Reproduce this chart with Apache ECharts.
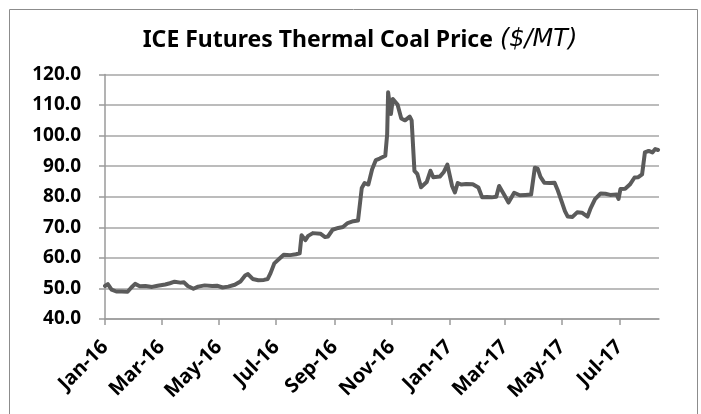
<!DOCTYPE html>
<html>
<head>
<meta charset="utf-8">
<script src="https://cdn.jsdelivr.net/npm/echarts@6/dist/echarts.min.js"></script>
<style>
  html, body { margin: 0; padding: 0; background: #fff; }
  #main { width: 701px; height: 414px; }
</style>
</head>
<body>
<div id="main"></div>
<script>
// price readings ($/MT)
var dates = [
  '2016-01-01', '2016-01-04', '2016-01-08', '2016-01-13', '2016-01-19', '2016-01-25', '2016-01-29',
  '2016-02-02', '2016-02-07', '2016-02-13', '2016-02-20', '2016-02-26',
  '2016-03-05', '2016-03-10', '2016-03-15', '2016-03-21', '2016-03-25', '2016-03-29',
  '2016-04-04', '2016-04-09', '2016-04-16', '2016-04-24', '2016-04-29',
  '2016-05-05', '2016-05-11', '2016-05-18', '2016-05-24', '2016-05-29',
  '2016-06-01', '2016-06-06', '2016-06-12', '2016-06-18', '2016-06-22', '2016-06-25', '2016-06-29',
  '2016-07-04', '2016-07-09', '2016-07-16', '2016-07-22', '2016-07-26', '2016-07-28',
  '2016-08-01', '2016-08-04', '2016-08-09', '2016-08-17', '2016-08-22', '2016-08-25', '2016-08-30',
  '2016-09-05', '2016-09-10', '2016-09-15', '2016-09-21', '2016-09-26', '2016-09-28', '2016-09-30',
  '2016-10-03', '2016-10-07', '2016-10-11', '2016-10-15', '2016-10-19', '2016-10-25', '2016-10-27', '2016-10-28', '2016-10-31',
  '2016-11-02', '2016-11-04', '2016-11-07', '2016-11-11', '2016-11-15', '2016-11-20', '2016-11-22', '2016-11-25', '2016-11-28',
  '2016-12-02', '2016-12-08', '2016-12-12', '2016-12-15', '2016-12-22', '2016-12-26', '2016-12-30',
  '2017-01-04', '2017-01-07', '2017-01-10', '2017-01-14', '2017-01-19', '2017-01-26',
  '2017-02-01', '2017-02-05', '2017-02-10', '2017-02-15', '2017-02-20', '2017-02-23',
  '2017-03-01', '2017-03-05', '2017-03-11', '2017-03-17', '2017-03-23', '2017-03-29',
  '2017-04-02', '2017-04-05', '2017-04-08', '2017-04-12', '2017-04-18', '2017-04-23', '2017-04-26',
  '2017-05-01', '2017-05-04', '2017-05-07', '2017-05-12', '2017-05-17', '2017-05-22', '2017-05-28', '2017-05-31',
  '2017-06-05', '2017-06-11', '2017-06-16', '2017-06-21', '2017-06-28', '2017-06-30',
  '2017-07-02', '2017-07-07', '2017-07-12', '2017-07-17', '2017-07-21', '2017-07-25', '2017-07-28',
  '2017-08-01', '2017-08-05', '2017-08-08', '2017-08-11'
];
var prices = [
  50.8, 51.4, 49.6, 49.0, 49.0, 48.9, 50.3,
  51.5, 50.7, 50.8, 50.5, 50.9,
  51.3, 51.7, 52.2, 51.9, 52.0, 50.8,
  49.9, 50.6, 51.0, 50.8, 50.9,
  50.3, 50.6, 51.2, 52.3, 54.2,
  54.7, 53.1, 52.7, 52.8, 53.1, 55.0, 58.2,
  59.6, 61.0, 60.9, 61.2, 61.5, 67.4,
  65.8, 67.2, 68.1, 67.9, 66.8, 67.0, 69.2,
  69.8, 70.1, 71.4, 72.0, 72.2, 72.6, 82.9,
  84.5, 84.0, 89.0, 92.0, 92.5, 93.4, 100.5, 114.2, 107.1,
  112.0, 111.6, 110.2, 105.6, 105.0, 106.2, 105.0, 88.5, 87.5,
  83.1, 84.8, 88.5, 86.4, 86.6, 88.0, 90.5,
  83.5, 81.4, 84.5, 84.0, 84.2, 84.1,
  83.0, 79.8, 79.9, 79.8, 80.0, 83.5,
  80.3, 78.1, 81.3, 80.5, 80.6, 80.7,
  89.5, 89.2, 86.5, 84.6, 84.5, 84.6, 82.4,
  78.0, 75.3, 73.5, 73.4, 74.9, 74.8, 73.5, 76.0,
  79.2, 81.1, 81.0, 80.6, 80.7, 79.3,
  82.5, 82.6, 84.0, 86.3, 86.4, 87.3, 94.5,
  95.0, 94.5, 95.6, 95.3
];
var monthNames = ['Jan', 'Feb', 'Mar', 'Apr', 'May', 'Jun', 'Jul', 'Aug', 'Sep', 'Oct', 'Nov', 'Dec'];
// x ticks every two months
var tickMonths = [
  [2016, 0], [2016, 2], [2016, 4], [2016, 6], [2016, 8], [2016, 10],
  [2017, 0], [2017, 2], [2017, 4], [2017, 6]
];
var yTicks = [40, 50, 60, 70, 80, 90, 100, 110, 120];

function toTime(s) {
    var p = s.split('-');
    return Date.UTC(+p[0], +p[1] - 1, +p[2]);
}
var tickValues = tickMonths.map(function (t) { return Date.UTC(t[0], t[1], 1); });
var seriesData = dates.map(function (d, i) { return [toTime(d), prices[i]]; });

var myChart = echarts.init(document.getElementById('main'));

var option = {
    animation: false,
    title: {
        text: '{b|ICE Futures Thermal Coal Price}{i|($/MT)}',
        left: 355,
        textAlign: 'center',
        top: 23,
        textStyle: {
            rich: {
                b: { fontFamily: 'Noto Sans', fontWeight: 'bold', fontSize: 23, color: '#000' },
                i: { fontFamily: 'DejaVu Sans', fontStyle: 'italic', fontWeight: 'normal', fontSize: 24, color: '#000', padding: [0, 0, 0, 7] }
            }
        }
    },
    graphic: [{
        type: 'rect',
        shape: { x: 9.5, y: 9.5, width: 688, height: 420 },
        style: { fill: 'none', stroke: '#8c8c8c', lineWidth: 1 },
        silent: true
    }],
    grid: {
        left: 105,
        right: 42,
        top: 74.5,
        bottom: 95
    },
    xAxis: {
        type: 'value',
        min: Date.UTC(2016, 0, 1),
        max: Date.UTC(2017, 7, 12),
        axisLine: { lineStyle: { color: '#9a9a9a', width: 1.5 } },
        axisTick: { show: true, customValues: tickValues, length: 6, lineStyle: { color: '#9a9a9a', width: 1.5 } },
        axisLabel: {
            customValues: tickValues,
            rotate: 45,
            margin: 25,
            fontFamily: 'Noto Sans',
            fontWeight: 'bold',
            fontSize: 20,
            color: '#000',
            formatter: function (v) {
                var d = new Date(v);
                return monthNames[d.getUTCMonth()] + '-' + String(d.getUTCFullYear()).slice(2);
            }
        },
        splitLine: { show: false }
    },
    yAxis: {
        type: 'value',
        min: 40,
        max: 120,
        interval: 10,
        axisLine: { show: true, lineStyle: { color: '#9a9a9a', width: 1.5 } },
        axisTick: { show: true, length: 6, lineStyle: { color: '#9a9a9a', width: 1.5 } },
        axisLabel: {
            margin: 24,
            fontFamily: 'Noto Sans',
            fontWeight: 'bold',
            fontSize: 19,
            color: '#000',
            formatter: function (v) { return yTicks.indexOf(v) >= 0 ? v.toFixed(1) : ''; }
        },
        splitLine: { lineStyle: { color: '#a6a6a6', width: 1.5 } }
    },
    series: [{
        name: 'Thermal Coal',
        type: 'line',
        data: seriesData,
        showSymbol: false,
        lineStyle: { color: '#5b5b5b', width: 4, join: 'round', cap: 'round' }
    }]
};
myChart.setOption(option);
</script>
</body>
</html>
